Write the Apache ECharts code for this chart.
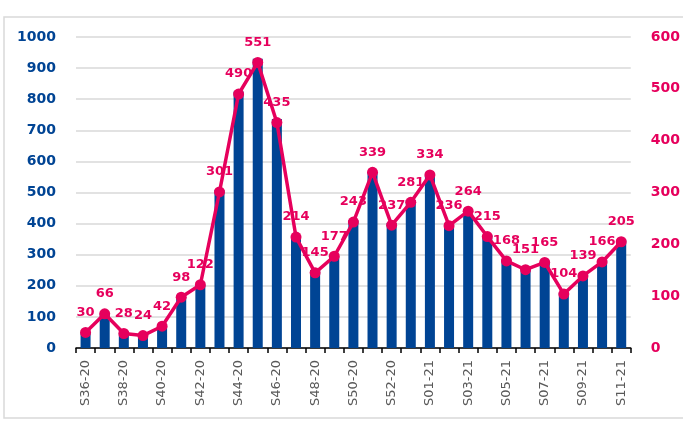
<!DOCTYPE html>
<html>
<head>
<meta charset="utf-8">
<script src="https://cdn.jsdelivr.net/npm/echarts@6/dist/echarts.min.js"></script>
<style>
html,body{margin:0;padding:0;background:#fff;}
#c{width:683px;height:439px;}
</style>
</head>
<body>
<div id="c"></div>
<script>
const categories = ["S36-20","S37-20","S38-20","S39-20","S40-20","S41-20","S42-20","S43-20","S44-20","S45-20","S46-20","S47-20","S48-20","S49-20","S50-20","S51-20","S52-20","S53-20","S01-21","S02-21","S03-21","S04-21","S05-21","S06-21","S07-21","S08-21","S09-21","S10-21","S11-21"];
const barValues = [50,110,47,40,68,163,203,508,825,930,736,358,251,293,411,565,402,476,556,395,430,363,285,257,277,178,235,283,347];
const lineValues = [30,66,28,24,42,98,122,301,490,551,435,214,145,177,243,339,237,281,334,236,264,215,168,151,165,104,139,166,205];
const leftTicks = [0,100,200,300,400,500,600,700,800,900,1000];
const rightTicks = [0,100,200,300,400,500,600];

const BLUE = '#004494';
const PINK = '#E6005C';
const chart = echarts.init(document.getElementById('c'), null, {renderer:'canvas'});
chart.setOption({
  animation:false,
  backgroundColor:'#fff',
  graphic:[{type:'rect', shape:{x:4,y:17,width:720,height:401}, style:{fill:'none', stroke:'#d9d9d9', lineWidth:1.5}, z:-1}],
  grid:{left:76, right:51, top:37, bottom:91},
  xAxis:{
    type:'category', data:categories,
    axisLine:{lineStyle:{color:'#000', width:1.5}},
    axisTick:{show:true, interval:0, length:5, lineStyle:{color:'#000', width:1.5}},
    axisLabel:{interval:1, rotate:90, color:'#595959', fontSize:13, fontFamily:'DejaVu Sans', margin:12}
  },
  yAxis:[
    {type:'value', min:leftTicks[0], max:leftTicks[leftTicks.length-1], interval:100,
     axisLine:{show:false}, axisTick:{show:false},
     splitLine:{lineStyle:{color:'#d9d9d9', width:1.5}},
     axisLabel:{color:BLUE, fontWeight:'bold', fontSize:14, fontFamily:'DejaVu Sans', margin:20, formatter:v=>String(v)}},
    {type:'value', min:rightTicks[0], max:rightTicks[rightTicks.length-1], interval:100,
     axisLine:{show:false}, axisTick:{show:false}, splitLine:{show:false},
     axisLabel:{color:PINK, fontWeight:'bold', fontSize:14, fontFamily:'DejaVu Sans', margin:20, formatter:v=>String(v)}}
  ],
  series:[
    {type:'bar', data:barValues, yAxisIndex:0, barWidth:10, itemStyle:{color:BLUE}},
    {type:'line', data:lineValues, yAxisIndex:1, symbol:'circle', symbolSize:11,
     lineStyle:{color:PINK, width:3.5}, itemStyle:{color:PINK},
     label:{show:true, position:'top', distance:8, color:PINK, fontWeight:'bold', fontSize:13, fontFamily:'DejaVu Sans'}}
  ]
});
</script>
</body>
</html>
